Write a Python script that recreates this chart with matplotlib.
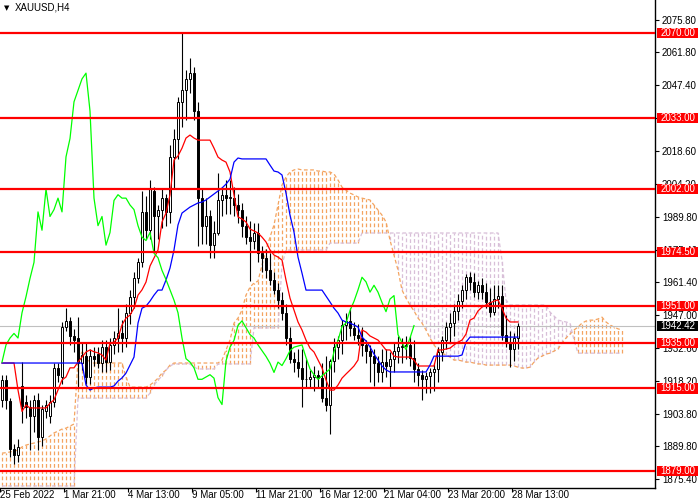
import numpy as np
import matplotlib
matplotlib.use("Agg")
import matplotlib.pyplot as plt
import matplotlib.transforms as mtransforms
from matplotlib.patches import Rectangle

plt.rcParams['font.family'] = ['Liberation Sans', 'DejaVu Sans']

# XAUUSD H4 candles
opens = [1910, 1918.5, 1909.5, 1888.5, 1886, 1916, 1909, 1907, 1903, 1910,
         1894, 1905, 1903, 1909, 1924, 1920, 1942, 1944.5, 1938, 1937,
         1926, 1929, 1920, 1929, 1930, 1926, 1933, 1926.5, 1934, 1937,
         1939, 1937, 1948, 1955, 1963, 1970, 1992, 1984, 2001, 1990,
         1993, 1998, 1992, 2016, 2024, 2040, 2045, 2050, 2052.5, 2036,
         1998, 1986, 1990, 1977.5, 1983, 1997, 1999.5, 1998, 1998, 1995,
         1993, 1986, 1981, 1979.5, 1983, 1974, 1972, 1966.5, 1962.5, 1958,
         1953.5, 1948, 1937, 1928, 1926.5, 1924, 1919, 1919, 1920, 1921,
         1919.5, 1911, 1908, 1927, 1933, 1936, 1942.5, 1944.5, 1941.5, 1938.5,
         1937, 1934, 1931.5, 1929, 1926, 1922, 1926.5, 1925, 1928, 1931.5,
         1933, 1933.5, 1934, 1928.5, 1923.5, 1921, 1919, 1920.5, 1922, 1923.5,
         1931, 1936, 1942, 1943.5, 1949, 1953, 1958, 1963.5, 1961.5, 1957,
         1960, 1957, 1952.5, 1948.5, 1954, 1955.5, 1938.5, 1935, 1932, 1937]
highs = [1921, 1921, 1911, 1891, 1893, 1926.5, 1912, 1910, 1912, 1913,
         1908, 1910, 1912, 1926, 1926, 1944, 1950, 1946, 1941, 1946,
         1935, 1935, 1932, 1933, 1933, 1936, 1936, 1937, 1940, 1950,
         1945, 1952, 1958, 1966, 1972, 2001, 1999, 2006, 2003, 1995,
         2002, 2000, 2021, 2028, 2042, 2070, 2054, 2059, 2055, 2040,
         2002, 1998, 1993, 1988, 2009, 2003, 2006, 2006, 2003, 2000,
         1996, 1990, 1988, 1987, 1987, 1977, 1976, 1974, 1966, 1961,
         1957, 1952, 1942, 1931, 1932, 1932, 1928, 1923, 1925, 1923,
         1926, 1929, 1928, 1937, 1938, 1945, 1948, 1950, 1944, 1943,
         1942, 1936, 1934, 1932, 1929, 1932, 1932, 1931, 1935, 1938,
         1937, 1938, 1938, 1936, 1926, 1923, 1922, 1924, 1926, 1933,
         1938, 1944, 1948, 1952, 1956, 1960, 1965, 1966, 1965.5, 1962,
         1963, 1961, 1959, 1960, 1960, 1960, 1947, 1940, 1939, 1943.5]
lows = [1907, 1906, 1885, 1882, 1883, 1900, 1902, 1888, 1896, 1888,
        1890, 1902, 1900, 1907, 1918, 1917, 1940, 1934, 1931, 1915,
        1923, 1917, 1917, 1925, 1924, 1922, 1922, 1923, 1930, 1931,
        1931, 1933, 1943, 1950, 1961, 1968, 1980, 1980, 1975, 1980,
        1985, 1986, 1987, 2002, 2015, 2029, 2032, 2044, 2032, 1977,
        1978, 1978, 1972, 1972, 1982, 1990, 1991, 1991, 1990, 1987,
        1981, 1978, 1962, 1976, 1970, 1966, 1963, 1960, 1956, 1950,
        1945, 1934, 1926, 1922, 1920, 1907, 1915, 1915, 1914, 1915,
        1909, 1905, 1895, 1922, 1928, 1930, 1936, 1938, 1936, 1934,
        1929, 1926, 1918, 1916, 1918, 1918, 1920, 1915, 1922, 1926,
        1926, 1928, 1925, 1918, 1916, 1910, 1913, 1913, 1914, 1918,
        1927, 1932, 1935, 1938, 1945, 1950, 1954, 1958, 1955, 1954,
        1954, 1950, 1946, 1947, 1950, 1936, 1933, 1924.5, 1927, 1932]
closes = [1918.5, 1910, 1888.5, 1886, 1889.5, 1907.5, 1907, 1903, 1910, 1894,
          1906, 1908, 1909, 1924, 1921, 1942, 1944.5, 1938, 1936, 1926,
          1929.5, 1920, 1929, 1928, 1926, 1933, 1926.5, 1934, 1937, 1939,
          1937, 1948, 1955, 1963, 1970, 1992, 1984, 2002, 1990, 1993,
          1998, 1992, 2016, 2024, 2040, 2045, 2050, 2052.5, 2036, 1998,
          1986, 1990, 1977.5, 1983, 1997, 1999.5, 1998, 1998, 1995, 1993,
          1986, 1981, 1979.5, 1983, 1974, 1972, 1966.5, 1962.5, 1958, 1953.5,
          1948, 1937, 1928, 1926.5, 1924, 1919, 1919, 1920, 1921, 1919.5,
          1911, 1908, 1927, 1933, 1936, 1942.5, 1944.5, 1941.5, 1938.5, 1937,
          1934, 1931.5, 1929, 1926, 1922, 1926.5, 1925, 1928, 1931.5, 1933,
          1933.5, 1934, 1928.5, 1923.5, 1921, 1919, 1920.5, 1922, 1923.5, 1931,
          1936, 1942, 1943.5, 1949, 1953, 1958, 1963.5, 1961.5, 1957, 1960,
          1957, 1952.5, 1948.5, 1954, 1955.5, 1938.5, 1935, 1932, 1937, 1942.42]

# Ichimoku lines as drawn on the chart
tenkan = ([1926.1] * 4 + [1914.3, 1905, 1907.8] + [1906.5] * 5 +
          [1908.6, 1910, 1914.3, 1918.7, 1920, 1924, 1924, 1926.5, 1928.7, 1930.9,
           1931.8, 1931, 1930.5, 1929.6, 1927.4, 1934.8, 1935.2, 1937, 1942.7, 1945.7,
           1947, 1950, 1955.7, 1958, 1961.4, 1968.4, 1971.9, 1975.4, 1987.6, 1991.5,
           1999.4, 2014.6, 2016.4, 2019.8, 2024.2, 2025.5, 2024.2] +
          [2023.3] * 4 +
          [2019.8, 2015.9, 2014.6, 2013.7, 2009.4, 1999.4, 1989.8, 1988.9, 1987.6, 1984.5,
           1983.7, 1982.8, 1981, 1978.9, 1975.4, 1973.2, 1972.3, 1971, 1962.3, 1954.4,
           1949.2, 1944, 1940.5, 1936.1, 1932.6, 1930.9, 1927.4, 1924, 1918.7, 1914.3,
           1914.3, 1916.5, 1919.5, 1921.3, 1923, 1924.8, 1927.4, 1940.5, 1939.6, 1937.9,
           1937, 1936.1, 1934, 1931.8, 1931.8, 1929.1] +
          [1928.7] * 4 + [1927.4] + [1924.8] * 5 +
          [1931.8, 1931.8, 1932.2, 1932.6, 1934, 1935.2, 1936.1, 1938.7, 1944.8, 1945.7,
           1948.8, 1950.5, 1951.4, 1952.3, 1953.1, 1953.6, 1950, 1945.7] +
          [1944] * 3)
kijun = ([1926.1] * 21 +
         [1916.5, 1914.3, 1915.2, 1915.6, 1915.6, 1915.6, 1915.6, 1916.1, 1918.2, 1919.6,
          1921.7, 1925.2, 1928.7, 1943.5, 1950, 1950.9, 1953.1, 1955.7, 1957.9, 1957.9,
          1962.3, 1967.5, 1975.4, 1986.3, 1991.5, 1992.8, 1994.1, 1995, 1995.9, 1996.3,
          1997.2, 1998.5, 1999.8, 2001.1, 2002.4, 2004.1, 2006.3, 2013.7, 2015.5] +
         [2015.1] * 7 +
         [2012.4, 2009.8, 2009.4, 2008.1, 2000.2, 1990.6, 1983.2, 1972.3, 1965.3] +
         [1957.9] * 5 +
         [1955.3, 1952.7, 1950, 1947.9, 1944.8, 1944, 1943.5, 1942.7, 1941.8, 1937.4,
          1935.7, 1933.1, 1930, 1927.4, 1924.8, 1923.1] +
         [1922.2] * 10 + [1925.2] + [1929.1] * 7 + [1929.6, 1935.2] + [1937.4] * 13)
span_a = ([1886.8, 1887.0, 1887.3, 1887.7, 1888.1, 1889.5, 1890.3, 1890.8, 1891.2, 1891.7,
           1892.1, 1893.0, 1894.3, 1895.6, 1896.4, 1897.3, 1897.7, 1898.6, 1899.5,
           1927.4, 1930.9, 1929.6] +
          [1926.1] * 9 + [1920.0] + [1915.6] * 5 +
          [1916.5, 1917.8, 1919.5, 1921.7, 1923.0, 1925.2] +
          [1926.1] * 12 +
          [1927.4, 1931.7, 1936.1, 1943.5, 1945.7, 1949.2, 1955.7, 1959.2, 1961.0, 1961.8,
           1968.8, 1975.4, 1981.0, 1986.3, 1995.0, 2003.7, 2007.2, 2009.4, 2010.3, 2010.7] +
          [2010.3] * 4 +
          [2009.8, 2009.8, 2009.4, 2009.4, 2008.5, 2005.9, 2002.8, 2001.5, 2000.2, 1999.4,
           1998.5, 1998.0, 1997.6, 1997.2, 1995.0, 1992.8, 1990.6, 1987.6, 1979.7, 1973.2,
           1966.6, 1957.9, 1954.4, 1951.4, 1948.8, 1945.7, 1943.5, 1940.5, 1937.0, 1934.0,
           1931.7, 1930.4, 1929.6, 1928.7,
           1927.4, 1927.4, 1927.0, 1926.5, 1926.5, 1926.1, 1925.7, 1925.7] +
          [1925.2] * 7 +
          [1924.8, 1924.3, 1923.9, 1923.9, 1924.3, 1926.5, 1928.3, 1929.1, 1930.0, 1930.4,
           1931.3, 1932.2, 1934.8, 1937.0, 1938.7, 1940.5, 1941.8, 1943.5, 1944.4, 1944.8,
           1944.8, 1945.3, 1946.1, 1944.0, 1942.7, 1941.8, 1941.0, 1940.5])
span_b = ([1872.5] * 19 + [1910.8] * 18 +
          [1913.0, 1916.5, 1918.7, 1920.4, 1923.0, 1924.8] +
          [1925.7] * 5 + [1924.3] + [1923.5] * 5 + [1925.7] * 9 +
          [1941.4] * 7 + [1968.8] + [1975.4] * 11 + [1978.4] * 8 +
          [1982.8] * 35 + [1971.0, 1953.6] + [1951.4] * 10 +
          [1948.3, 1946.6, 1944.8, 1944.4, 1944.0, 1943.5, 1936.1] +
          [1930.4] * 12)

levels = [2070.00, 2033.00, 2002.00, 1974.50, 1951.00, 1935.00, 1915.00, 1879.00]
last_price = 1942.42
price_ticks = [2075.80, 2061.80, 2047.40, 2033.00, 2018.60, 2004.20, 1989.80, 1975.40,
               1961.40, 1947.00, 1932.60, 1918.20, 1903.80, 1889.80, 1875.40]
time_labels = ['25 Feb 2022', '1 Mar 21:00', '4 Mar 13:00', '9 Mar 05:00', '11 Mar 21:00',
               '16 Mar 12:00', '21 Mar 04:00', '23 Mar 20:00', '28 Mar 13:00']
bars_per_label = 16
chikou_shift = 26

o = np.array(opens)
h = np.array(highs)
l = np.array(lows)
c = np.array(closes)
bars = np.arange(len(c))
a = np.array(span_a)
b = np.array(span_b)
cb = np.arange(len(a))

fig = plt.figure(figsize=(7, 5), dpi=100)
ax = fig.add_axes([0, 12 / 500, 655 / 700, 488 / 500])

# cloud, dotted columns like MT4
up = a >= b
dash = (0, (3, 2))
ax.vlines(cb[up], b[up], a[up], colors='#F4A460', linestyles=[dash], lw=0.9, zorder=1)
ax.vlines(cb[~up], a[~up], b[~up], colors='#D8BFD8', linestyles=[dash], lw=0.9, zorder=1)
ax.plot(cb, a, color='#F4A460', ls=dash, lw=0.9, zorder=1.2)
ax.plot(cb, b, color='#D8BFD8', ls=dash, lw=0.9, zorder=1.2)

ax.axhline(last_price, color='#C0C0C0', lw=0.8, zorder=1.5)

# candles
ax.vlines(bars, l, h, color='black', lw=0.8, zorder=2.9)
bull = c >= o
body_lo = np.minimum(o, c)
body_h = np.maximum(np.abs(c - o), 0.3)
ax.bar(bars[bull], body_h[bull], bottom=body_lo[bull], width=0.6,
       color='white', edgecolor='black', lw=0.7, zorder=3)
ax.bar(bars[~bull], body_h[~bull], bottom=body_lo[~bull], width=0.6,
       color='black', edgecolor='black', lw=0.7, zorder=3)

ax.plot(bars, tenkan, color='red', lw=0.9, zorder=4)
ax.plot(bars, kijun, color='blue', lw=0.9, zorder=4)
ax.plot(bars[:-chikou_shift], c[chikou_shift:], color='#00FF00', lw=0.9, zorder=4)

for lev in levels:
    ax.axhline(lev, color='red', lw=1.6, zorder=5)

ax.set_xlim(-0.5, 163.25)
ax.set_ylim(1871.6, 2084.4)

for s in ['top', 'left']:
    ax.spines[s].set_visible(False)
for s in ['right', 'bottom']:
    ax.spines[s].set_color('black')
    ax.spines[s].set_linewidth(1)

# price scale; the 2033.00 mark sits fully under its level box
ax.yaxis.tick_right()
ax.set_yticks(price_ticks)
ax.set_yticklabels(['' if t in levels else '%.2f' % t for t in price_ticks])
ax.tick_params(axis='y', direction='out', length=3, width=0.8, pad=2, labelsize=7)

# time scale
xt = [k * bars_per_label - 0.5 for k in range(len(time_labels))]
ax.set_xticks(xt)
ax.set_xticklabels([])
ax.tick_params(axis='x', direction='out', length=3, width=0.8)
trx = mtransforms.blended_transform_factory(ax.transData, ax.transAxes)
for x, lab in zip(xt, time_labels):
    ax.text(x, -9.5 / 488, lab, transform=trx, ha='left', va='baseline',
            fontsize=7, clip_on=False)

# price labels on the scale
tr = mtransforms.blended_transform_factory(ax.transAxes, ax.transData)
box_h = 4.4
for lev in levels:
    ax.add_patch(Rectangle((1.003, lev - box_h / 2), 0.063, box_h, transform=tr,
                           facecolor='red', edgecolor='none', clip_on=False, zorder=10))
    ax.text(1.0345, lev, '%.2f' % lev, transform=tr, ha='center', va='center',
            color='white', fontsize=7, clip_on=False, zorder=11)
ax.add_patch(Rectangle((1.003, last_price - box_h / 2), 0.063, box_h, transform=tr,
                       facecolor='black', edgecolor='none', clip_on=False, zorder=10))
ax.text(1.0345, last_price, '%.2f' % last_price, transform=tr, ha='center', va='center',
        color='white', fontsize=7, clip_on=False, zorder=11)

ax.text(4 / 655, 1 - 8 / 488, '\u25bc', transform=ax.transAxes, fontsize=5,
        va='center', ha='left', family=['DejaVu Sans'])
ax.text(15 / 655, 1 - 8 / 488, 'XAUUSD,H4', transform=ax.transAxes, fontsize=7,
        va='center', ha='left')

fig.savefig('out.png', dpi=100)
